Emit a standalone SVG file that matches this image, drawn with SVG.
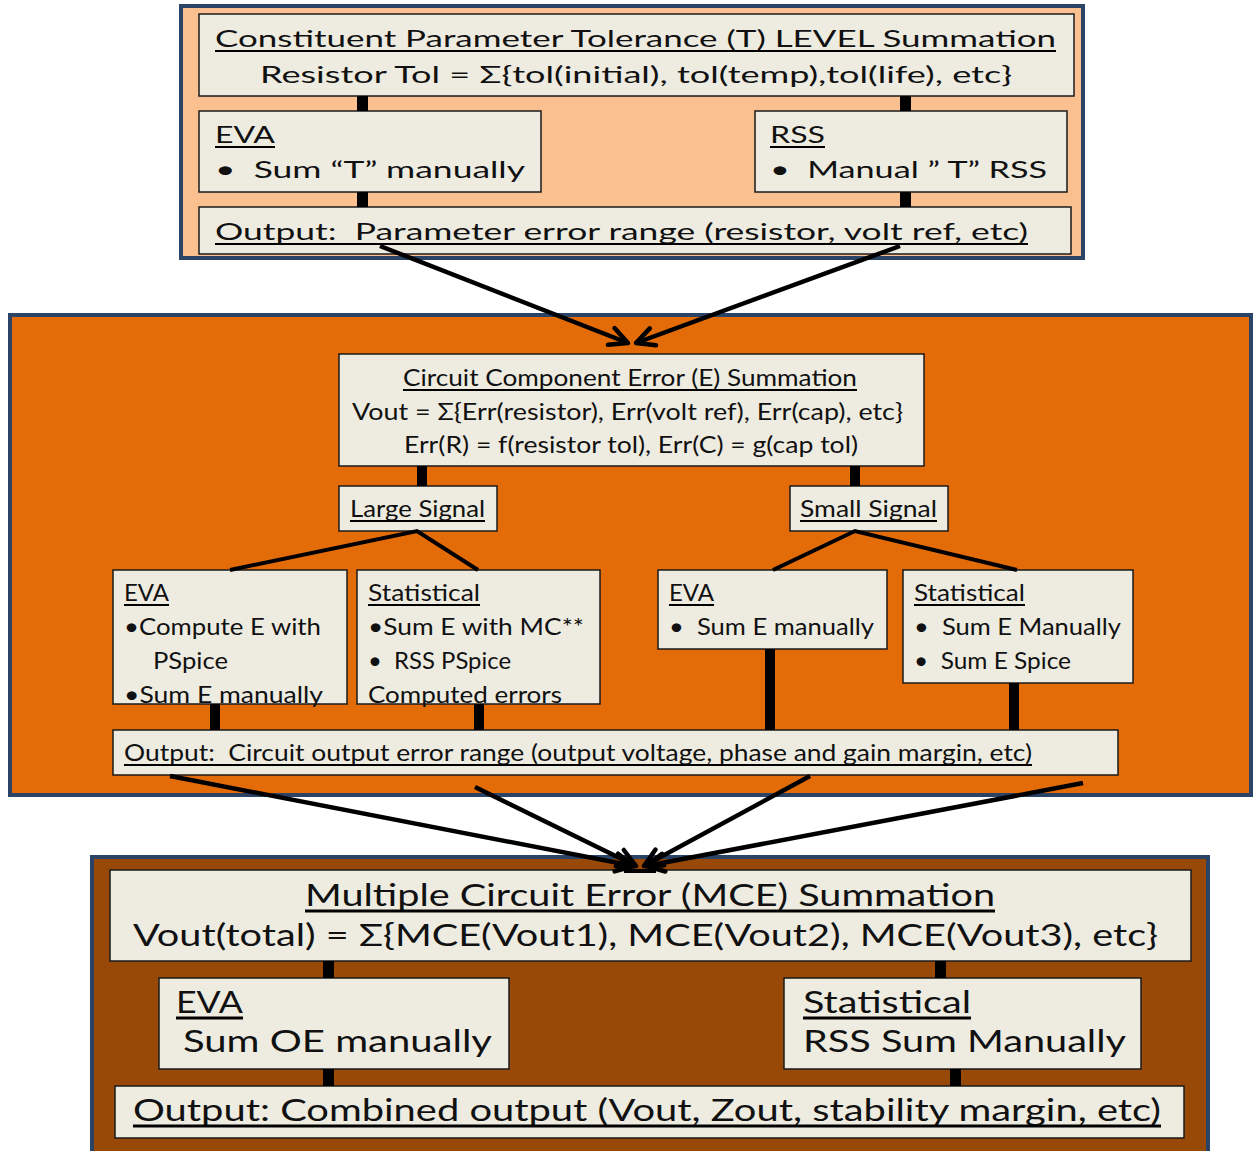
<svg xmlns="http://www.w3.org/2000/svg" width="1254" height="1151" viewBox="0 0 1254 1151">
<style>
  .panel { stroke: #2B4466; stroke-width: 4; }
  .box { fill: #EEECE1; stroke: #1a1a1a; stroke-width: 1.5; }
  .bar { fill: #000; }
  .ln { stroke: #000; stroke-width: 4; fill: none; stroke-linecap: butt; }
  .arr { stroke: #000; stroke-width: 4.5; fill: none; marker-end: url(#ah); }
  .ul { stroke: #000; stroke-width: 2.2; }
  .ulb { stroke: #000; stroke-width: 3; }
  text { font-family: Lato, "Liberation Sans", sans-serif; fill: #111; white-space: pre; }
  .t { font-size: 23px; }
  .m { font-size: 23px; }
  .b { font-size: 31px; }
</style>
<defs>
  <marker id="ah" markerUnits="userSpaceOnUse" viewBox="0 0 24 24" refX="21" refY="12" markerWidth="24" markerHeight="24" orient="auto">
    <path d="M3,3 L21,12 L3,21" fill="none" stroke="#000" stroke-width="4.5" stroke-linecap="round" stroke-linejoin="round"/>
  </marker>
</defs>

<!-- panels -->
<rect id="panel-top" class="panel" x="181" y="6" width="902" height="252" fill="#FAC090"/>
<rect id="panel-mid" class="panel" x="10" y="315" width="1241" height="480" fill="#E36C09"/>
<rect id="panel-bot" class="panel" x="92" y="857" width="1116" height="300" fill="#984807"/>

<!-- top section -->
<g id="node-t-title">
  <rect class="box" x="199" y="14" width="875" height="82"/>
  <text class="t" x="215" y="47" textLength="841" lengthAdjust="spacingAndGlyphs">Constituent Parameter Tolerance (T) LEVEL Summation</text>
  <line class="ul" x1="215" y1="51" x2="1056" y2="51"/>
  <text class="t" x="260" y="83" textLength="752" lengthAdjust="spacingAndGlyphs">Resistor Tol = Σ{tol(initial), tol(temp),tol(life), etc}</text>
</g>
<g id="node-t-eva">
  <rect class="box" x="199" y="111" width="342" height="81"/>
  <text class="t" x="215" y="143" textLength="60" lengthAdjust="spacingAndGlyphs">EVA</text>
  <line class="ul" x1="215" y1="147" x2="275" y2="147"/>
  <text class="t" x="215" y="178" textLength="310" lengthAdjust="spacingAndGlyphs">•  Sum “T” manually</text>
</g>
<g id="node-t-rss">
  <rect class="box" x="755" y="111" width="312" height="81"/>
  <text class="t" x="770" y="143" textLength="55" lengthAdjust="spacingAndGlyphs">RSS</text>
  <line class="ul" x1="770" y1="147" x2="825" y2="147"/>
  <text class="t" x="770" y="178" textLength="277" lengthAdjust="spacingAndGlyphs">•  Manual ” T” RSS</text>
</g>
<g id="node-t-output">
  <rect class="box" x="199" y="207" width="872" height="47"/>
  <text class="t" x="215" y="240" textLength="813" lengthAdjust="spacingAndGlyphs">Output:  Parameter error range (resistor, volt ref, etc)</text>
  <line class="ul" x1="215" y1="244" x2="1028" y2="244"/>
</g>

<!-- middle section -->
<g id="node-m-title">
  <rect class="box" x="339" y="354" width="585" height="112"/>
  <text class="m" x="403" y="386" textLength="454" lengthAdjust="spacingAndGlyphs">Circuit Component Error (E) Summation</text>
  <line class="ul" x1="403" y1="390" x2="857" y2="390"/>
  <text class="m" x="352" y="420" textLength="551" lengthAdjust="spacingAndGlyphs">Vout = Σ{Err(resistor), Err(volt ref), Err(cap), etc}</text>
  <text class="m" x="404" y="453" textLength="454" lengthAdjust="spacingAndGlyphs">Err(R) = f(resistor tol), Err(C) = g(cap tol)</text>
</g>
<g id="node-m-large">
  <rect class="box" x="339" y="486" width="158" height="45"/>
  <text class="m" x="350" y="517" textLength="135" lengthAdjust="spacingAndGlyphs">Large Signal</text>
  <line class="ul" x1="350" y1="521" x2="485" y2="521"/>
</g>
<g id="node-m-small">
  <rect class="box" x="790" y="486" width="158" height="45"/>
  <text class="m" x="800" y="517" textLength="137" lengthAdjust="spacingAndGlyphs">Small Signal</text>
  <line class="ul" x1="800" y1="521" x2="937" y2="521"/>
</g>
<g id="node-m-eva1">
  <rect class="box" x="113" y="570" width="234" height="134"/>
  <text class="m" x="124" y="601" textLength="45" lengthAdjust="spacingAndGlyphs">EVA</text>
  <line class="ul" x1="124" y1="605" x2="169" y2="605"/>
  <text class="m" x="124" y="635" textLength="197" lengthAdjust="spacingAndGlyphs">•Compute E with</text>
  <text class="m" x="153" y="669" textLength="75" lengthAdjust="spacingAndGlyphs">PSpice</text>
  <text class="m" x="124" y="703" textLength="199" lengthAdjust="spacingAndGlyphs">•Sum E manually</text>
</g>
<g id="node-m-stat1">
  <rect class="box" x="357" y="570" width="243" height="134"/>
  <text class="m" x="368" y="601" textLength="112" lengthAdjust="spacingAndGlyphs">Statistical</text>
  <line class="ul" x1="368" y1="605" x2="480" y2="605"/>
  <text class="m" x="368" y="635" textLength="216" lengthAdjust="spacingAndGlyphs">•Sum E with MC**</text>
  <text class="m" x="368" y="669" textLength="143" lengthAdjust="spacingAndGlyphs">•  RSS PSpice</text>
  <text class="m" x="368" y="703" textLength="194" lengthAdjust="spacingAndGlyphs">Computed errors</text>
</g>
<g id="node-m-eva2">
  <rect class="box" x="658" y="570" width="229" height="79"/>
  <text class="m" x="669" y="601" textLength="45" lengthAdjust="spacingAndGlyphs">EVA</text>
  <line class="ul" x1="669" y1="605" x2="714" y2="605"/>
  <text class="m" x="669" y="635" textLength="205" lengthAdjust="spacingAndGlyphs">•  Sum E manually</text>
</g>
<g id="node-m-stat2">
  <rect class="box" x="903" y="570" width="230" height="113"/>
  <text class="m" x="914" y="601" textLength="111" lengthAdjust="spacingAndGlyphs">Statistical</text>
  <line class="ul" x1="914" y1="605" x2="1025" y2="605"/>
  <text class="m" x="914" y="635" textLength="207" lengthAdjust="spacingAndGlyphs">•  Sum E Manually</text>
  <text class="m" x="914" y="669" textLength="157" lengthAdjust="spacingAndGlyphs">•  Sum E Spice</text>
</g>
<g id="node-m-output">
  <rect class="box" x="113" y="730" width="1005" height="45"/>
  <text class="m" x="124" y="761" textLength="908" lengthAdjust="spacingAndGlyphs">Output:  Circuit output error range (output voltage, phase and gain margin, etc)</text>
  <line class="ul" x1="124" y1="765" x2="1032" y2="765"/>
</g>

<!-- bottom section -->
<g id="node-b-title">
  <rect class="box" x="110" y="870" width="1081" height="91"/>
  <text class="b" x="305" y="906" textLength="690" lengthAdjust="spacingAndGlyphs">Multiple Circuit Error (MCE) Summation</text>
  <line class="ulb" x1="305" y1="911" x2="995" y2="911"/>
  <text class="b" x="133" y="946" textLength="1025" lengthAdjust="spacingAndGlyphs">Vout(total) = Σ{MCE(Vout1), MCE(Vout2), MCE(Vout3), etc}</text>
</g>
<g id="node-b-eva">
  <rect class="box" x="159" y="978" width="350" height="91"/>
  <text class="b" x="176" y="1013" textLength="67" lengthAdjust="spacingAndGlyphs">EVA</text>
  <line class="ulb" x1="176" y1="1018" x2="243" y2="1018"/>
  <text class="b" x="183" y="1052" textLength="309" lengthAdjust="spacingAndGlyphs">Sum OE manually</text>
</g>
<g id="node-b-stat">
  <rect class="box" x="784" y="978" width="357" height="91"/>
  <text class="b" x="803" y="1013" textLength="168" lengthAdjust="spacingAndGlyphs">Statistical</text>
  <line class="ulb" x1="803" y1="1018" x2="971" y2="1018"/>
  <text class="b" x="803" y="1052" textLength="323" lengthAdjust="spacingAndGlyphs">RSS Sum Manually</text>
</g>
<g id="node-b-output">
  <rect class="box" x="115" y="1086" width="1069" height="52"/>
  <text class="b" x="133" y="1121" textLength="1028" lengthAdjust="spacingAndGlyphs">Output: Combined output (Vout, Zout, stability margin, etc)</text>
  <line class="ulb" x1="133" y1="1126" x2="1161" y2="1126"/>
</g>

<!-- connectors -->
<g id="connectors">
  <rect class="bar" x="357" y="96" width="11" height="15"/>
  <rect class="bar" x="357" y="192" width="11" height="15"/>
  <rect class="bar" x="900" y="96" width="11" height="15"/>
  <rect class="bar" x="900" y="192" width="11" height="15"/>
  <line class="arr" x1="380" y1="246" x2="628" y2="343"/>
  <line class="arr" x1="900" y1="246" x2="636" y2="343"/>

  <rect class="bar" x="417" y="466" width="10" height="20"/>
  <rect class="bar" x="850" y="466" width="10" height="20"/>
  <polyline class="ln" points="230,570 417,531 478,570"/>
  <polyline class="ln" points="773,570 855,531 1017,570"/>
  <rect class="bar" x="210" y="704" width="10" height="26"/>
  <rect class="bar" x="474" y="704" width="10" height="26"/>
  <rect class="bar" x="765" y="649" width="10" height="81"/>
  <rect class="bar" x="1009" y="683" width="10" height="47"/>

  <line class="arr" x1="170" y1="776" x2="634" y2="866"/>
  <line class="arr" x1="475" y1="787" x2="636" y2="866"/>
  <line class="arr" x1="810" y1="776" x2="644" y2="866"/>
  <line class="arr" x1="1083" y1="783" x2="646" y2="866"/>
  <line class="ln" x1="624" y1="871" x2="656" y2="871" stroke-width="6" stroke-linecap="round"/>

  <rect class="bar" x="323" y="961" width="11" height="17"/>
  <rect class="bar" x="935" y="961" width="11" height="17"/>
  <rect class="bar" x="323" y="1069" width="11" height="17"/>
  <rect class="bar" x="950" y="1069" width="11" height="17"/>
</g>
</svg>
